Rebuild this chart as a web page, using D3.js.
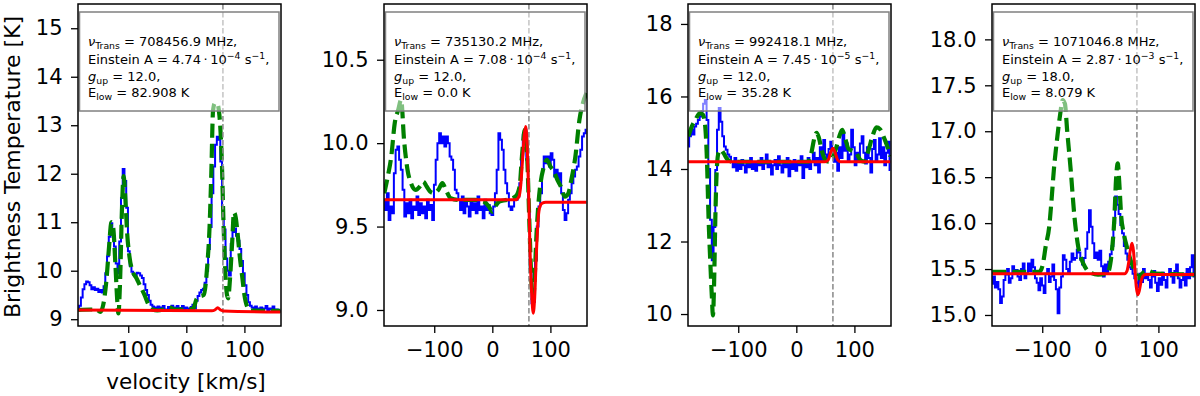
<!DOCTYPE html>
<html><head><meta charset="utf-8">
<script src="https://cdn.jsdelivr.net/npm/d3@7"></script>
<style>body{margin:0;background:#fff} svg{display:block} text{font-family:"DejaVu Sans",sans-serif}</style>
</head><body><svg id="c" width="1200" height="396"></svg>
<script>
// ---------------- data ----------------
const velocity = [
-186,-183,-180,-177,-174,-171,-168,-165,-162,-159,
-156,-153,-150,-147,-144,-141,-138,-135,-132,-129,
-126,-123,-120,-117,-114,-111,-108,-105,-102,-99,
-96,-93,-90,-87,-84,-81,-78,-75,-72,-69,
-66,-63,-60,-57,-54,-51,-48,-45,-42,-39,
-36,-33,-30,-27,-24,-21,-18,-15,-12,-9,
-6,-3,0,3,6,9,12,15,18,21,
24,27,30,33,36,39,42,45,48,51,
54,57,60,63,66,69,72,75,78,81,
84,87,90,93,96,99,102,105,108,111,
114,117,120,123,126,129,132,135,138,141,
144,147,150,153,156,159,162];

const observed1 = [
9.22,9.28,9.45,9.62,9.72,9.78,9.76,9.7,9.62,9.66,
9.6,9.63,9.56,9.6,9.55,9.68,9.95,10.3,10.7,10.98,
10.85,10.5,10.15,9.95,10.6,11.5,12.1,11.85,11.3,10.4,
10.1,9.98,9.92,9.9,9.96,9.95,9.9,9.85,9.72,9.6,
9.5,9.38,9.3,9.26,9.24,9.2,9.26,9.19,9.24,9.27,
9.2,9.18,9.25,9.22,9.28,9.2,9.24,9.27,9.19,9.23,
9.27,9.2,9.24,9.22,9.18,9.25,9.3,9.22,9.38,9.48,
9.55,9.6,9.63,9.75,10.0,10.45,10.9,11.6,12.15,12.6,
12.76,12.7,12.25,11.3,10.85,10.25,10.0,9.9,10.55,10.8,
10.87,10.72,10.62,10.45,10.2,9.95,9.7,9.5,9.35,9.28,
9.24,9.2,9.26,9.22,9.19,9.24,9.2,9.22,9.27,9.19,
9.22,9.2,9.26,9.18,9.2,9.17,9.16];

const observed2 = [
9.66,9.6,9.7,9.54,9.62,9.58,9.82,9.96,9.98,9.9,
9.84,9.72,9.56,9.64,9.58,9.66,9.55,9.62,9.6,9.68,
9.57,9.64,9.58,9.62,9.55,9.66,9.6,9.63,9.54,9.75,
9.9,10.0,10.06,10.0,10.04,9.98,10.04,10.0,9.92,9.9,
9.84,9.72,9.7,9.66,9.6,9.68,9.58,9.66,9.62,9.56,
9.66,9.6,9.64,9.58,9.68,9.6,9.62,9.55,9.66,9.6,
9.63,9.58,9.57,9.62,9.7,9.84,10.06,10.02,9.96,9.84,
9.76,9.7,9.62,9.6,9.62,9.66,9.66,9.68,9.76,9.9,
10.05,10.08,9.9,9.6,9.25,9.04,9.05,9.3,9.5,9.62,
9.7,9.84,9.92,9.88,9.92,9.86,9.94,9.9,9.8,9.84,
9.78,9.82,9.7,9.6,9.54,9.58,9.66,9.7,9.76,9.8,
9.84,9.86,9.92,9.96,10.04,10.06,10.08];

const observed3 = [
14.62,14.9,15.08,14.95,15.17,15.25,15.35,15.45,15.6,15.8,
15.9,15.35,14.0,12.6,11.48,12.4,13.97,15.08,15.68,15.3,
14.9,14.62,14.53,14.4,14.34,14.2,14.05,14.3,13.95,14.15,
14.0,14.25,14.1,13.9,14.2,14.05,14.3,14.0,14.15,13.95,
14.2,14.1,14.3,14.0,14.15,14.4,14.05,14.2,13.85,14.1,
14.25,14.0,14.35,14.1,13.9,14.2,14.05,14.3,13.8,14.15,
14.0,14.25,13.95,14.2,14.1,14.35,13.75,14.15,14.05,14.3,
14.0,14.2,14.45,14.1,14.3,13.9,14.6,14.25,14.8,14.4,
14.3,14.55,14.75,14.5,14.2,14.45,13.95,14.6,14.3,14.99,
14.5,14.7,14.2,14.4,15.08,14.6,14.1,14.45,14.25,14.7,
14.9,14.45,14.15,14.6,14.3,13.9,14.55,14.8,14.2,14.4,
14.85,14.3,14.6,14.1,14.45,14.75,13.97];

const observed4 = [
15.34,15.42,15.3,15.36,15.28,15.13,15.2,15.38,15.44,15.5,
15.35,15.4,15.53,15.45,15.49,15.42,15.38,15.5,15.56,15.4,
15.45,15.56,15.48,15.6,15.52,15.4,15.35,15.27,15.4,15.32,
15.24,15.45,15.5,15.36,15.42,15.55,15.38,15.28,15.02,15.3,
15.42,15.65,15.6,15.5,15.45,15.58,15.67,15.6,15.62,15.71,
15.68,15.6,15.55,15.62,15.72,15.9,16.14,15.96,15.78,15.62,
15.68,15.6,15.7,15.53,15.42,15.55,15.45,15.58,15.66,15.75,
16.0,16.29,16.2,16.1,15.98,15.89,15.75,15.67,15.6,15.52,
15.5,15.45,15.4,15.38,15.3,15.45,15.36,15.5,15.4,15.45,
15.38,15.3,15.42,15.48,15.35,15.26,15.4,15.33,15.46,15.38,
15.3,15.44,15.5,15.42,15.35,15.48,15.55,15.4,15.3,15.38,
15.45,15.32,15.5,15.4,15.52,15.65,15.42];

// model of all transitions (green dashed), [velocity, T]
const model1 = [[-186,9.19],[-165,9.2],[-155,9.2],[-148,9.15],[-143,9.3],[-138,9.75],[-133,10.5],[-129,11.0],[-126,10.9],[-122,10.1],[-119,9.4],[-117,9.12],[-114,9.8],[-111,11.2],[-108,11.95],[-105,11.5],[-102,10.8],[-98,10.3],[-93,10.0],[-86,9.85],[-80,9.7],[-72,9.5],[-65,9.3],[-58,9.2],[-50,9.18],[-40,9.2],[-30,9.25],[-20,9.2],[0,9.2],[12,9.22],[17,9.4],[22,9.46],[30,9.5],[36,10.1],[40,10.9],[43,12.0],[46,13.3],[49,13.45],[53,13.45],[57,13.2],[61,12.3],[64,11.0],[67,10.0],[70,9.5],[72,9.43],[75,9.8],[79,10.6],[82,11.2],[85,11.1],[88,10.8],[92,10.3],[96,9.9],[100,9.5],[105,9.25],[110,9.18],[162,9.17]];
const model2 = [[-186,9.7],[-180,9.8],[-174,9.92],[-168,10.12],[-162,10.2],[-157,10.26],[-152,10.02],[-146,9.84],[-140,9.76],[-132,9.72],[-125,9.74],[-119,9.77],[-113,9.74],[-107,9.71],[-100,9.7],[-93,9.72],[-86,9.76],[-80,9.72],[-72,9.67],[-60,9.66],[-45,9.66],[-30,9.66],[-15,9.65],[-6,9.62],[0,9.59],[5,9.62],[12,9.65],[25,9.66],[40,9.68],[47,9.74],[51,9.92],[56,10.08],[60,9.92],[64,9.5],[67,9.2],[70,9.06],[73,9.2],[76,9.45],[79,9.62],[83,9.76],[88,9.85],[94,9.9],[100,9.86],[106,9.83],[112,9.78],[118,9.74],[125,9.68],[131,9.7],[136,9.78],[143,9.92],[150,10.14],[156,10.24],[162,10.3]];
const model3 = [[-186,14.9],[-180,15.17],[-174,15.35],[-166,15.54],[-161,15.5],[-157,15.2],[-154,14.3],[-151,12.6],[-148,11.4],[-145.5,10.5],[-143.5,9.96],[-141.5,10.9],[-139.5,12.6],[-137,13.97],[-134,14.45],[-130,14.53],[-125,14.43],[-118,14.25],[-110,14.2],[-60,14.2],[0,14.2],[20,14.2],[26,14.45],[31,14.85],[35,15.0],[39,14.85],[44,14.5],[50,14.25],[56,14.2],[62,14.3],[68,14.55],[74,14.9],[79,15.08],[84,14.85],[90,14.55],[97,14.5],[103,14.45],[110,14.25],[117,14.2],[124,14.5],[131,14.9],[138,15.15],[144,15.1],[150,14.9],[156,14.65],[162,14.35]];
const model4 = [[-186,15.47],[-105,15.47],[-99,15.55],[-94,15.75],[-88,15.96],[-84,16.25],[-80,16.58],[-74,16.94],[-69,17.19],[-65,17.34],[-61,17.3],[-57,17.0],[-51,16.58],[-45,16.1],[-38,15.74],[-32,15.6],[-27,15.53],[-20,15.47],[-4,15.44],[12,15.45],[17,15.55],[20,15.7],[24,16.03],[27,16.47],[30,16.65],[33,16.4],[36,16.07],[40,15.9],[47,15.71],[53,15.58],[58,15.5],[62,15.45],[67,15.4],[72,15.45],[76,15.47],[82,15.48],[95,15.45],[162,15.44]];

// fit of the single transition (red), [velocity, T]
const fit1 = [[-186,9.19],[44,9.175],[49,9.19],[54,9.235],[59,9.19],[64,9.17],[162,9.15]];
const fit2 = [[-186,9.66],[40,9.66],[46,9.68],[49,9.75],[52,9.9],[55,10.05],[57.5,10.1],[60,9.98],[62.5,9.7],[65,9.35],[68,9.08],[70.5,8.98],[73,9.08],[76,9.35],[79,9.55],[82,9.62],[86,9.64],[92,9.645],[162,9.645]];
const fit3 = [[-186,14.2],[50,14.2],[55,14.25],[59,14.45],[63,14.57],[67,14.45],[71,14.25],[76,14.2],[162,14.2]];
const fit4 = [[-186,15.45],[42,15.45],[46,15.48],[49,15.58],[52,15.72],[54.5,15.78],[57,15.7],[59.5,15.5],[62,15.3],[64.5,15.22],[67,15.26],[70,15.36],[73,15.42],[78,15.44],[162,15.44]];

const systemicVelocity = [63, 63, 63, 63];
const freqMHz = ["708456.9", "735130.2", "992418.1", "1071046.8"];
const einsteinA = ["4.74", "7.08", "7.45", "2.87"];
const einsteinExp = ["\u22124", "\u22124", "\u22125", "\u22123"];
const gUp = ["12.0", "12.0", "12.0", "18.0"];
const eLow = ["82.908", "0.0", "35.28", "8.079"];

const xDomain = [-186.5, 163];
const xTicks = [-100, 0, 100];
const yDomains = [[8.86, 15.5], [8.904, 10.834], [9.67, 18.55], [14.88, 18.385]];
const yTicks = [[9,10,11,12,13,14,15], [9.0,9.5,10.0,10.5], [10,12,14,16,18], [15.0,15.5,16.0,16.5,17.0,17.5,18.0]];
const yFormats = ["d", ".1f", "d", ".1f"];

// ---------------- drawing ----------------
const observed = [observed1, observed2, observed3, observed4];
const models = [model1, model2, model3, model4];
const fits = [fit1, fit2, fit3, fit4];

const svg = d3.select("#c");
svg.append("rect").attr("width", 1200).attr("height", 396).attr("fill", "#fff");
const lefts = [78, 384, 688, 992], W = 203, TOP = 4, BOT = 326;

for (let i = 0; i < 4; i++) {
  const L = lefts[i];
  const x = d3.scaleLinear().domain(xDomain).range([L, L + W]);
  const y = d3.scaleLinear().domain(yDomains[i]).range([BOT, TOP]);
  const g = svg.append("g");
  const cid = "clip" + i;
  svg.append("clipPath").attr("id", cid).append("rect")
    .attr("x", L).attr("y", TOP).attr("width", W).attr("height", BOT - TOP);
  const pg = g.append("g").attr("clip-path", `url(#${cid})`);

  const obs = velocity.map((v, k) => [v, observed[i][k]]).filter(d => d[1] != null);
  pg.append("path").attr("d", d3.line().x(d => x(d[0])).y(d => y(d[1])).curve(d3.curveStep)(obs))
    .attr("fill", "none").attr("stroke", "#0000ff").attr("stroke-width", 2).attr("stroke-linejoin", "miter");

  const smooth = d3.line().x(d => x(d[0])).y(d => y(d[1])).curve(d3.curveMonotoneX);
  pg.append("path").attr("d", smooth(models[i]))
    .attr("fill", "none").attr("stroke", "#008000").attr("stroke-width", 4.2)
    .attr("stroke-dasharray", "14,6");

  pg.append("line").attr("x1", x(systemicVelocity[i])).attr("x2", x(systemicVelocity[i]))
    .attr("y1", TOP).attr("y2", BOT)
    .attr("stroke", "#888").attr("stroke-width", 1.5).attr("stroke-dasharray", "5.5,2.5");

  pg.append("path").attr("d", smooth(fits[i]))
    .attr("fill", "none").attr("stroke", "#ff0000").attr("stroke-width", 3);

  // info box
  g.append("rect").attr("x", L + 1.5).attr("y", 12).attr("width", W - 3.5).attr("height", 99)
    .attr("fill", "rgba(255,255,255,0.5)").attr("stroke", "#808080").attr("stroke-width", 1.5);
  const tx = L + 10;
  const fs = 13, sfs = 9.3;
  const t1 = g.append("text").attr("x", tx).attr("y", 46).attr("font-size", fs);
  t1.append("tspan").attr("font-style", "italic").text("\u03bd");
  t1.append("tspan").attr("font-size", sfs).attr("dy", 3).text("Trans");
  t1.append("tspan").attr("dy", -3).text(` = ${freqMHz[i]} MHz,`);
  const t2 = g.append("text").attr("x", tx).attr("y", 64).attr("font-size", fs);
  t2.append("tspan").text(`Einstein A = ${einsteinA[i]}\u2009\u00b7\u200910`);
  t2.append("tspan").attr("font-size", sfs).attr("dy", -5).text(einsteinExp[i]);
  t2.append("tspan").attr("dy", 5).text(" s");
  t2.append("tspan").attr("font-size", sfs).attr("dy", -5).text("\u22121");
  t2.append("tspan").attr("dy", 5).text(",");
  const t3 = g.append("text").attr("x", tx).attr("y", 80.5).attr("font-size", fs);
  t3.append("tspan").attr("font-style", "italic").text("g");
  t3.append("tspan").attr("font-size", sfs).attr("dy", 3).text("up");
  t3.append("tspan").attr("dy", -3).text(` = ${gUp[i]},`);
  const t4 = g.append("text").attr("x", tx).attr("y", 97).attr("font-size", fs);
  t4.append("tspan").text("E");
  t4.append("tspan").attr("font-size", sfs).attr("dy", 3).text("low");
  t4.append("tspan").attr("dy", -3).text(` = ${eLow[i]} K`);

  // axes
  const ya = g.append("g").attr("transform", `translate(${L},0)`)
    .call(d3.axisLeft(y).tickValues(yTicks[i]).tickFormat(d3.format(yFormats[i])).tickSize(7).tickPadding(8.5));
  const xa = g.append("g").attr("transform", `translate(0,${BOT})`)
    .call(d3.axisBottom(x).tickValues(xTicks).tickFormat(d3.format("d")).tickSize(7).tickPadding(9.5));
  [ya, xa].forEach(a => {
    a.select(".domain").remove();
    a.attr("font-family", "DejaVu Sans").attr("font-size", 21);
    a.selectAll("line").attr("stroke", "#000").attr("stroke-width", 1.3);
    a.selectAll("text").attr("fill", "#000");
  });
  g.append("rect").attr("x", L).attr("y", TOP).attr("width", W).attr("height", BOT - TOP)
    .attr("fill", "none").attr("stroke", "#000").attr("stroke-width", 1.5);
}

svg.append("text").attr("transform", "translate(20,167) rotate(-90)")
  .attr("text-anchor", "middle").attr("font-size", 22).text("Brightness Temperature [K]");
svg.append("text").attr("x", 186).attr("y", 389).attr("text-anchor", "middle")
  .attr("font-size", 21.5).text("velocity [km/s]");
</script></body></html>
